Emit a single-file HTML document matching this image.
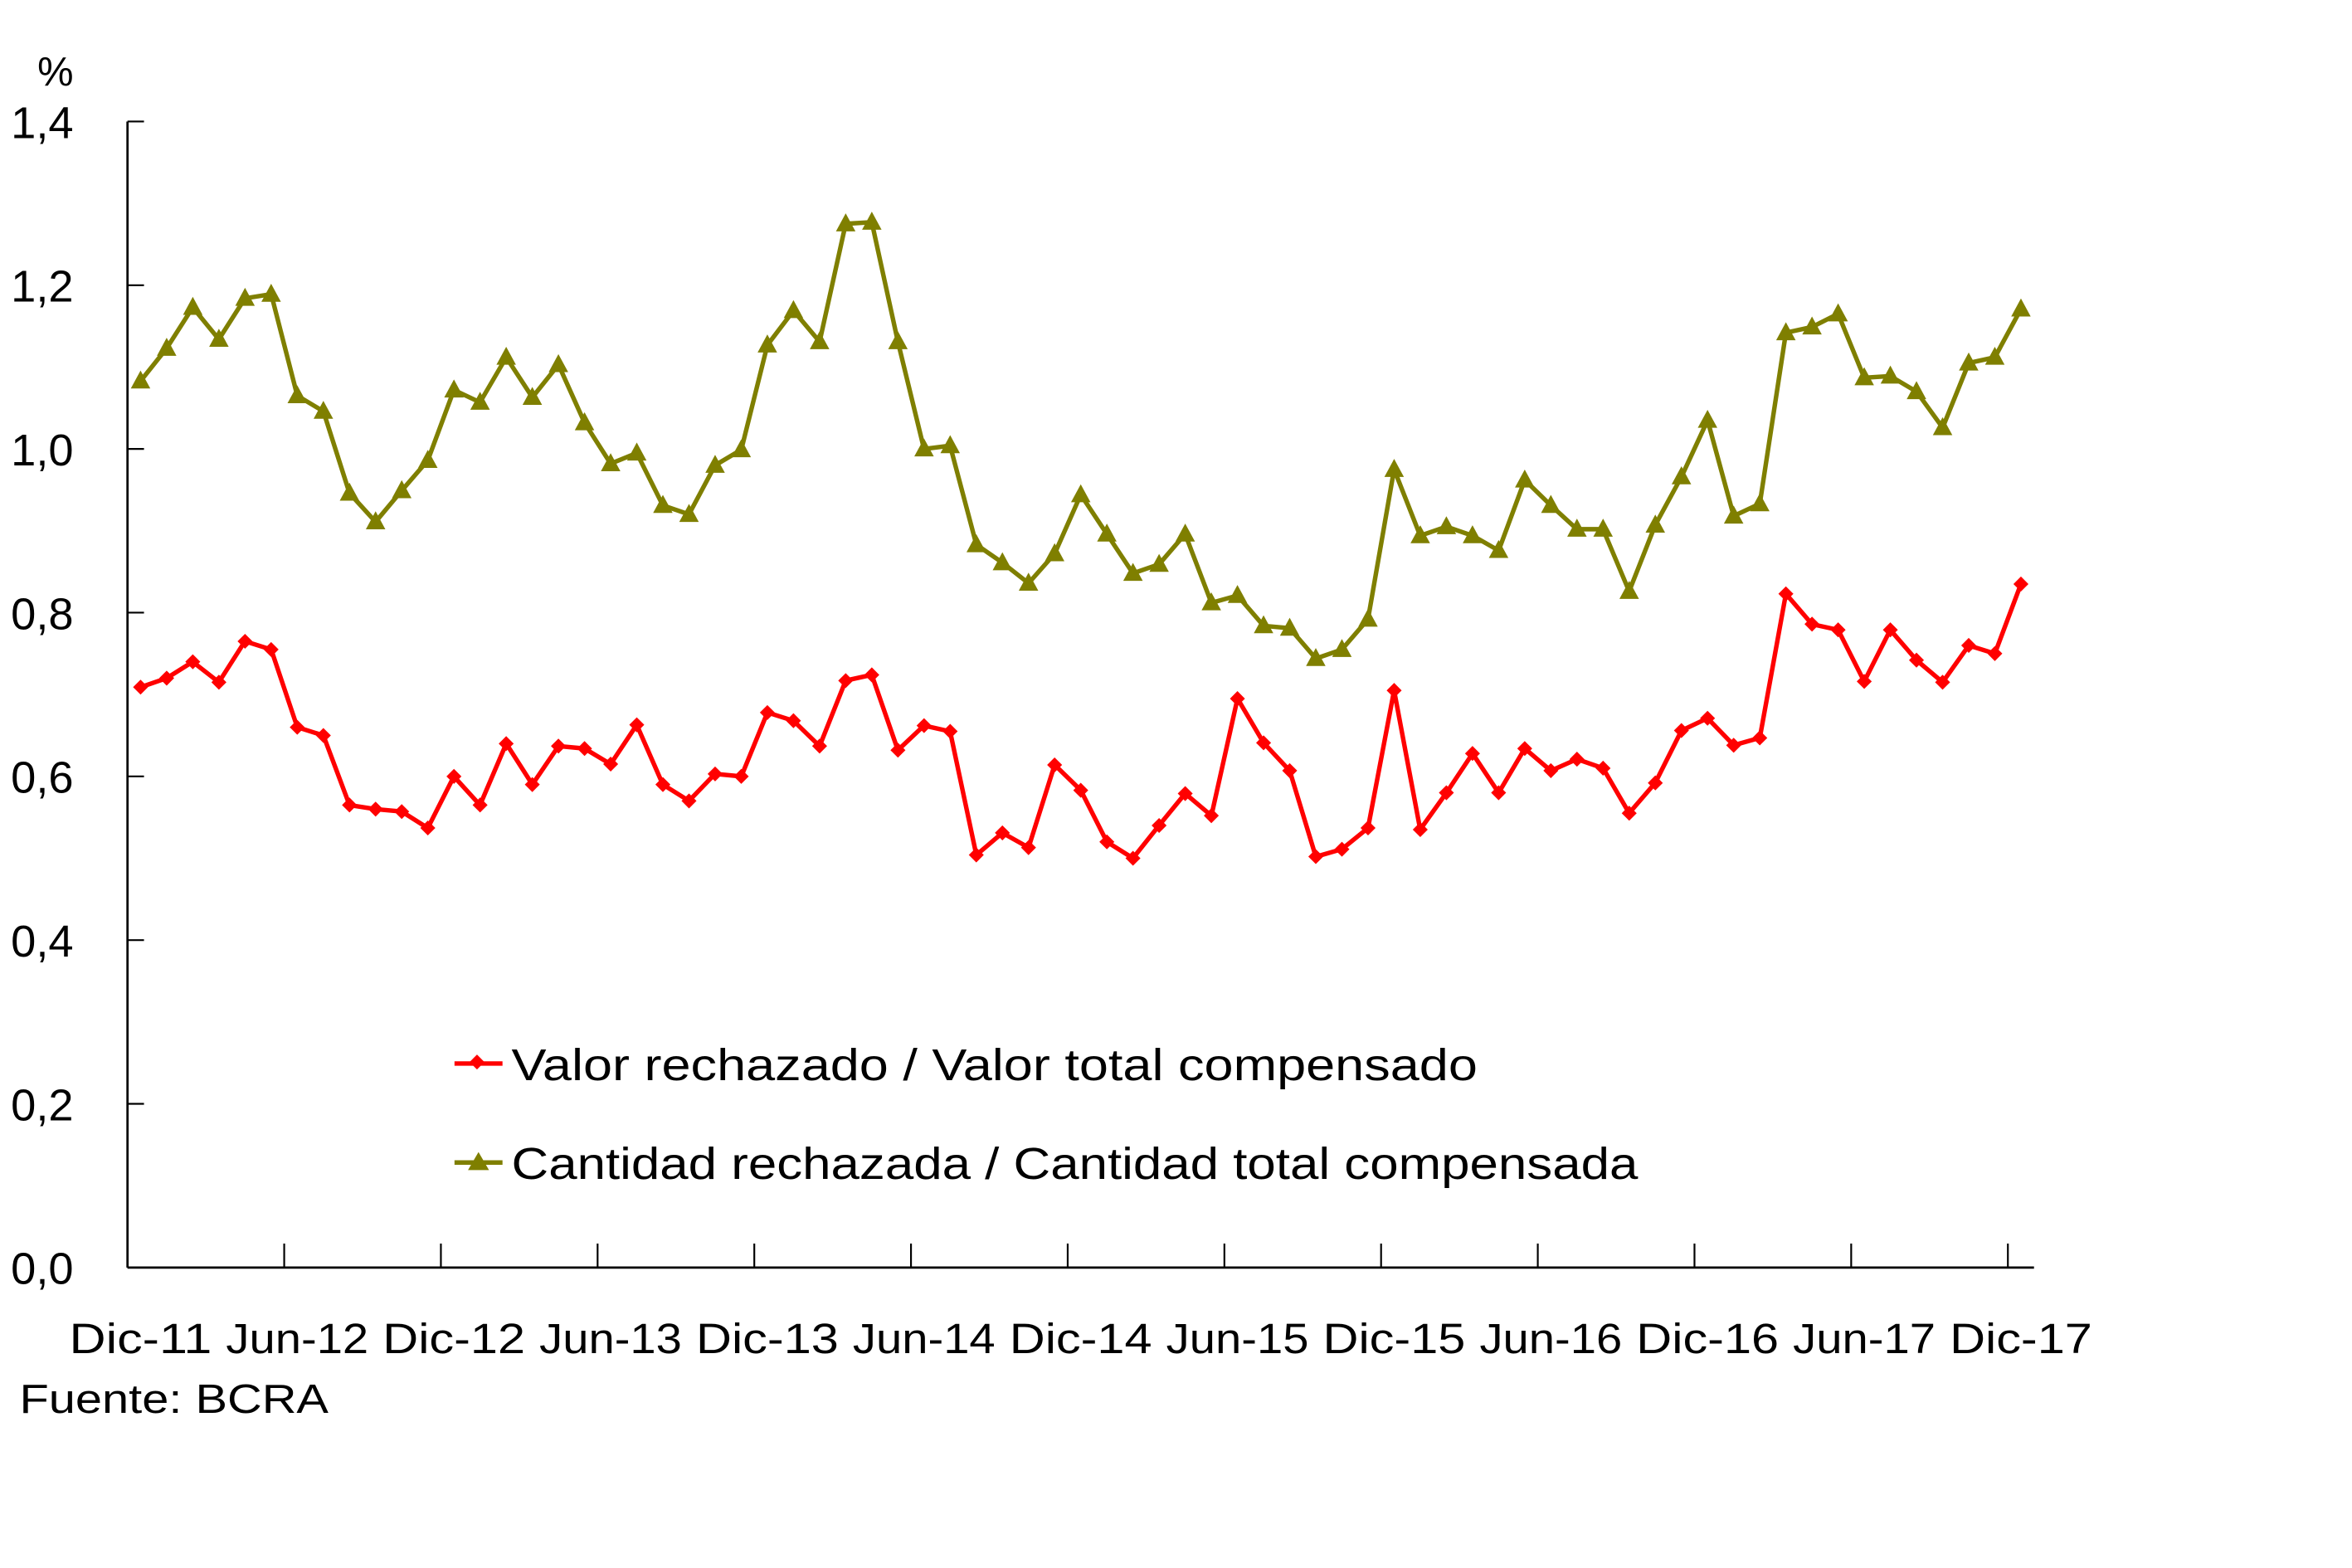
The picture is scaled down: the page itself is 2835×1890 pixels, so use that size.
<!DOCTYPE html>
<html><head><meta charset="utf-8">
<style>
html,body{margin:0;padding:0;background:#fff;}
svg{display:block;}
text{font-family:"Liberation Sans",sans-serif;fill:#000;}
</style></head>
<body>
<svg id="chart" width="2835" height="1890" viewBox="0 0 1568 1045.3" preserveAspectRatio="none" xmlns="http://www.w3.org/2000/svg">
<rect x="0" y="0" width="1568" height="1046" fill="#fff"/>
<g id="axes"></g>
<g id="series"></g>
<text x="25" y="57" font-size="27">%</text>
<text x="13" y="942" font-size="27" textLength="206" lengthAdjust="spacingAndGlyphs">Fuente:  BCRA</text>
<g>
<g>
<line x1="303" y1="709" x2="335" y2="709" stroke="#FF0000" stroke-width="3"/>
<rect x="314.5" y="704.5" width="7" height="7" fill="#FF0000" transform="rotate(45 318 708)"/>
<text x="341" y="720" font-size="30" textLength="644" lengthAdjust="spacingAndGlyphs">Valor rechazado / Valor total compensado</text>
</g>
<g>
<line x1="303" y1="775" x2="335" y2="775" stroke="#7F7F00" stroke-width="3"/>
<polygon points="319,768 326,780 312,780" fill="#7F7F00"/>
<text x="341" y="786" font-size="30" textLength="751" lengthAdjust="spacingAndGlyphs">Cantidad rechazada / Cantidad total compensada</text>
</g>
</g>
</svg>
<script>
const valorRechazado=[0.709,0.72,0.74,0.715,0.765,0.755,0.66,0.65,0.565,0.56,0.557,0.537,0.6,0.565,0.64,0.59,0.637,0.634,0.615,0.663,0.59,0.57,0.603,0.6,0.678,0.668,0.637,0.717,0.724,0.632,0.662,0.655,0.504,0.531,0.513,0.614,0.583,0.52,0.5,0.54,0.579,0.552,0.695,0.641,0.607,0.502,0.511,0.537,0.705,0.535,0.58,0.628,0.58,0.634,0.607,0.621,0.61,0.555,0.592,0.656,0.671,0.638,0.647,0.823,0.786,0.779,0.716,0.779,0.742,0.715,0.76,0.75,0.835];
const cantidadRechazada=[1.083,1.123,1.173,1.134,1.184,1.189,1.065,1.046,0.946,0.911,0.949,0.986,1.072,1.057,1.112,1.063,1.103,1.032,0.982,0.995,0.931,0.92,0.98,0.999,1.127,1.169,1.131,1.275,1.277,1.131,1.0,1.004,0.883,0.861,0.836,0.872,0.944,0.896,0.848,0.859,0.896,0.812,0.821,0.784,0.781,0.744,0.755,0.792,0.975,0.894,0.905,0.894,0.876,0.962,0.931,0.902,0.902,0.826,0.907,0.966,1.035,0.918,0.933,1.142,1.149,1.165,1.087,1.089,1.07,1.026,1.105,1.112,1.171];
const xTickLabels=["Dic-11","Jun-12","Dic-12","Jun-13","Dic-13","Jun-14","Dic-14","Jun-15","Dic-15","Jun-16","Dic-16","Jun-17","Dic-17"];
const yTickValues=[0,0.2,0.4,0.6,0.8,1.0,1.2,1.4];

const NS="http://www.w3.org/2000/svg";
const X0=85,X1=1356,Y0=845,Y1=81,N=valorRechazado.length;
const band=(X1-X0)/N;
function xScale(i){return X0+band*(i+0.5);}
function yScale(v){return Y0-(v/1.4)*(Y0-Y1);}
function mk(tag,attrs,parent){const e=document.createElementNS(NS,tag);for(const k in attrs)e.setAttribute(k,attrs[k]);parent.appendChild(e);return e;}
const axes=document.getElementById('axes');
const series=document.getElementById('series');
let a=mk('line',{x1:X0,y1:Y1,x2:X0,y2:Y0,stroke:'#000','stroke-width':1.5},axes);


a=mk('line',{x1:X0,y1:Y0,x2:X1,y2:Y0,stroke:'#000','stroke-width':1.5},axes);


yTickValues.forEach(v=>{
  const y=yScale(v);
  const t=mk('line',{x1:X0,y1:y,x2:X0+11,y2:y,stroke:'#000','stroke-width':1.2},axes);
  
  
  const l=mk('text',{x:49,y:y+11,'font-size':30,'text-anchor':'end'},axes);
  l.textContent=v.toFixed(1).replace('.',',');
  
  
});
for(let k=6;k<N;k+=6){
  const x=X0+band*k;
  const t=mk('line',{x1:x,y1:Y0,x2:x,y2:Y0-16,stroke:'#000','stroke-width':1.2},axes);
  
  
}
xTickLabels.forEach((s,j)=>{
  const l=mk('text',{x:xScale(j*6),y:902,'font-size':28,'text-anchor':'middle',textLength:95,lengthAdjust:'spacingAndGlyphs'},axes);
  l.textContent=s;
  
  
});
function drawSeries(vals,color,marker,name){
  const pts=vals.map((v,i)=>xScale(i).toFixed(1)+','+yScale(v).toFixed(1)).join(' ');
  const pl=mk('polyline',{points:pts,fill:'none',stroke:color,'stroke-width':3,'stroke-linejoin':'round'},series);
  
  
  vals.forEach((v,i)=>{
    const x=xScale(i),y=yScale(v);let m;
    if(marker==='diamond'){m=mk('polygon',{points:`${x},${y-5} ${x+5},${y} ${x},${y+5} ${x-5},${y}`,fill:color},series);}
    else{m=mk('polygon',{points:`${x},${y-7} ${x+6.5},${y+5} ${x-6.5},${y+5}`,fill:color},series);}
    
    
  });
}
drawSeries(cantidadRechazada,'#7F7F00','triangle','cantidad-rechazada');
drawSeries(valorRechazado,'#FF0000','diamond','valor-rechazado');
</script>
</body></html>
